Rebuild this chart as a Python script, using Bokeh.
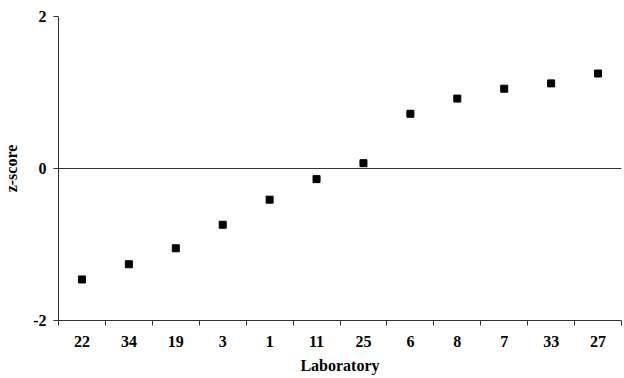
from bokeh.plotting import figure
from bokeh.models import FixedTicker, Span, Range1d
from bokeh.embed import file_html
from bokeh.resources import INLINE

labs = ["22", "34", "19", "3", "1", "11", "25", "6", "8", "7", "33", "27"]
zscores = [-1.46, -1.26, -1.05, -0.74, -0.41, -0.14, 0.07, 0.72, 0.92, 1.05, 1.12, 1.25]
y_ticks = [-2, 0, 2]
y_tick_labels = ["-2", "0", "2"]

FONT = "Liberation Serif"

xs = [i + 0.5 for i in range(len(labs))]

p = figure(width=624, height=378, output_backend="svg", toolbar_location=None,
           x_range=Range1d(0, len(labs)), y_range=Range1d(-2, 2),
           min_border_left=58, min_border_right=3, min_border_top=16, min_border_bottom=58)
p.outline_line_color = None
p.grid.visible = False
p.background_fill_color = "white"

p.scatter(xs, zscores, marker="square", size=7, color="black")

p.add_layout(Span(location=0, dimension="width", line_color="#333333", line_width=1))

xa = p.xaxis[0]
xa.ticker = FixedTicker(ticks=xs, minor_ticks=list(range(len(labs) + 1)))
xa.major_label_overrides = {x: l for x, l in zip(xs, labs)}
xa.major_tick_line_color = None
xa.minor_tick_out = 5
xa.minor_tick_in = 0
xa.minor_tick_line_color = "#333333"
xa.axis_line_color = "#333333"
xa.major_label_standoff = 9
xa.major_label_text_font = FONT
xa.major_label_text_font_style = "bold"
xa.major_label_text_font_size = "16px"
xa.major_label_text_color = "black"
xa.axis_label = "Laboratory"
xa.axis_label_text_font = FONT
xa.axis_label_text_font_style = "bold"
xa.axis_label_text_font_size = "16px"
xa.axis_label_text_color = "black"
xa.axis_label_standoff = 7

ya = p.yaxis[0]
ya.ticker = FixedTicker(ticks=y_ticks, minor_ticks=[])
ya.major_label_overrides = {t: l for t, l in zip(y_ticks, y_tick_labels)}
ya.major_tick_out = 5
ya.major_tick_in = 0
ya.major_tick_line_color = "#333333"
ya.axis_line_color = "#333333"
ya.major_label_standoff = 7
ya.major_label_text_font = FONT
ya.major_label_text_font_style = "bold"
ya.major_label_text_font_size = "16px"
ya.major_label_text_color = "black"
ya.axis_label = "z-score"
ya.axis_label_text_font = FONT
ya.axis_label_text_font_style = "bold"
ya.axis_label_text_font_size = "16px"
ya.axis_label_text_color = "black"
ya.axis_label_standoff = 10

open("out.html", "w").write(file_html(p, INLINE))
